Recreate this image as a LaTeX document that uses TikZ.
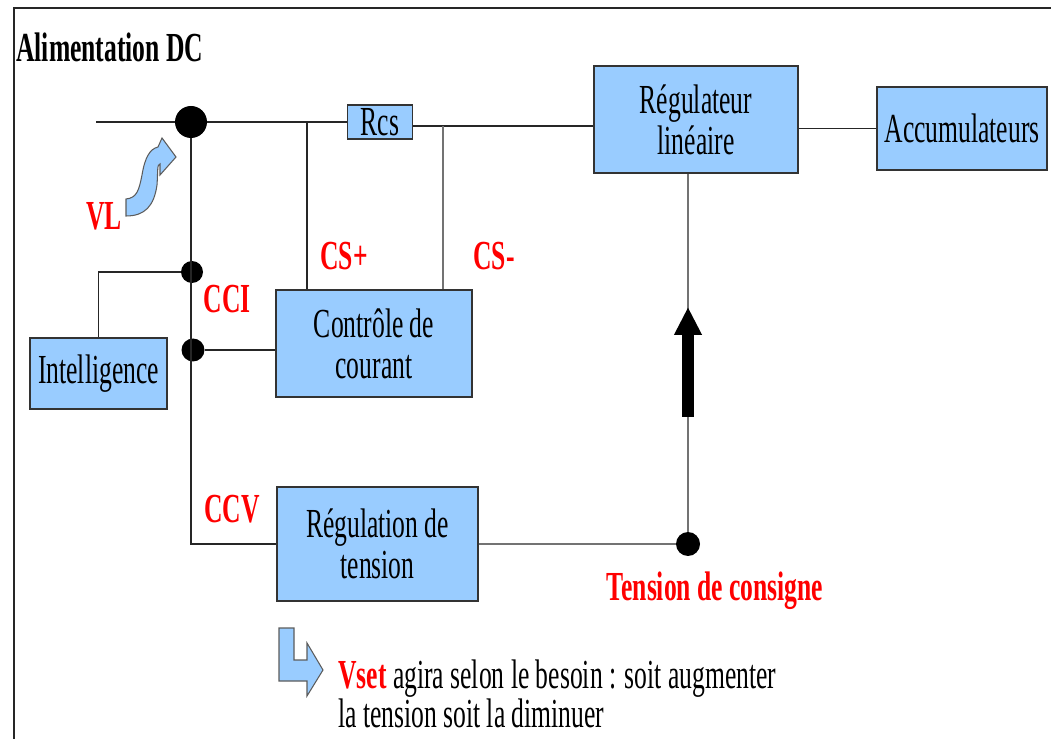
\documentclass[tikz,border=0pt]{standalone}
\usepackage{fontspec}
\setmainfont[FakeStretch=0.62]{Liberation Serif}
\definecolor{BoxBlue}{HTML}{99CCFF}
\definecolor{BoxEdge}{HTML}{333333}
\definecolor{LabelRed}{HTML}{FF0000}
\usetikzlibrary{arrows.meta,positioning,calc}
\def\fs{\fontsize{23.5}{23.5}\selectfont}

\begin{document}
\begin{tikzpicture}
[x=0.02cm, y=-0.02cm,
   block/.style={rectangle,draw=BoxEdge,line width=0.9pt,fill=BoxBlue,text=black,
   font=\fs,align=center,inner sep=0pt},
   lb/.style={text=LabelRed,font=\fs\bfseries,inner sep=0pt},
   wire/.style={black!85,line width=0.7pt},
   faint/.style={black!55,line width=0.9pt},
   junc/.style={circle,fill=black,inner sep=0pt},
   hollow/.style={fill=BoxBlue,draw=BoxEdge!80,line width=0.6pt}]
\useasboundingbox (0,0) rectangle (1051,739);
% cadre
\draw[line width=1.3pt,black!85] (14,739) -- (14,8) -- (1051,8);
\node[anchor=base west,inner sep=0pt,font=\fs\bfseries] (title) at (16,62) {Alimentation DC};

% blocs
\node[block,minimum width=1.3cm,minimum height=0.68cm] (rcs) at (380,122) {Rcs};
\node[block,minimum width=4.08cm,minimum height=2.14cm] (reg) at (696,119.5) {R\'egulateur\\lin\'eaire};
\node[block,minimum width=3.4cm,minimum height=1.66cm] (accu) at (962,128.5) {Accumulateurs};
\node[block,minimum width=2.74cm,minimum height=1.42cm] (intel) at (98.5,373.5) {Intelligence};
\node[block,minimum width=3.92cm,minimum height=2.14cm] (ctrl) at (374,343.5) {Contr\^ole de\\courant};
\node[block,minimum width=4.02cm,minimum height=2.28cm] (regt) at (377.5,544) {R\'egulation de\\tension};

% noeuds
\node[junc,minimum size=0.64cm] (jin) at (191,122) {};
\node[junc,minimum size=0.44cm] (jint) at (192,272) {};
\node[junc,minimum size=0.46cm] (jcc) at (193,350) {};
\node[junc,minimum size=0.48cm] (jset) at (688,544) {};

% liaisons
\coordinate (in) at (96,122);
\coordinate (csp) at (307,122);
\coordinate (csm) at (443,126);
\draw[wire] (in) -- (jin) -- (rcs);
\draw[wire] (rcs.east |- csm) -- (csm -| reg.west);
\draw[wire] (reg.east |- accu) -- (accu.west);
\draw[wire] (csp) -- (csp |- ctrl.north);
\draw[faint] (csm) -- (csm |- ctrl.north);
\draw[wire] (jin) |- (regt.west);
\draw[wire] (jint) -| (intel.north);
\draw[wire] (jcc) -- (jcc -| ctrl.west);
\draw[faint] (regt.east) -- (jset);
\draw[faint] (jset) -- (jset |- reg.south);

% fleche de consigne
\coordinate (ab) at (688,417);
\coordinate (at) at (688,307);
\draw[line width=0.24cm,-{Triangle[length=0.56cm,width=0.52cm]}] (ab) -- (at);

% fleche VL
\draw[hollow] (126,216) -- (126,199)
   .. controls (137,198) and (139,190) .. (142,175)
   .. controls (145,157) and (150,149) .. (158,147)
   -- (162,138) -- (176,157) -- (160,175) -- (160,164)
   .. controls (157,164) and (158,171) .. (157,185)
   .. controls (154,206) and (145,216) .. (126,216) -- cycle;

% fleche en L
\draw[hollow] (279,628) -- (294,628) -- (294,660) -- (307,660) -- (307,643)
   -- (323,670) -- (307,696) -- (307,681) -- (279,681) -- cycle;

% etiquettes
\node[lb,anchor=base] (vl) at (104,230) {VL};
\node[lb,anchor=base] (csplus) at (344,270) {CS+};
\node[lb,anchor=base] (csmin) at (494,270) {CS-};
\node[lb,anchor=base] (cci) at (227,313) {CCI};
\node[lb,anchor=base] (ccv) at (232,522) {CCV};
\node[lb,anchor=base] (cons) at (715,600) {Tension de consigne};
\node[anchor=north west,align=left,inner sep=0pt,font=\fontsize{23.5}{17}\selectfont] (note) at (338,659)
   {\textcolor{LabelRed}{\bfseries Vset} agira selon le besoin : soit augmenter\\la tension soit la diminuer};
\end{tikzpicture}
\end{document}
